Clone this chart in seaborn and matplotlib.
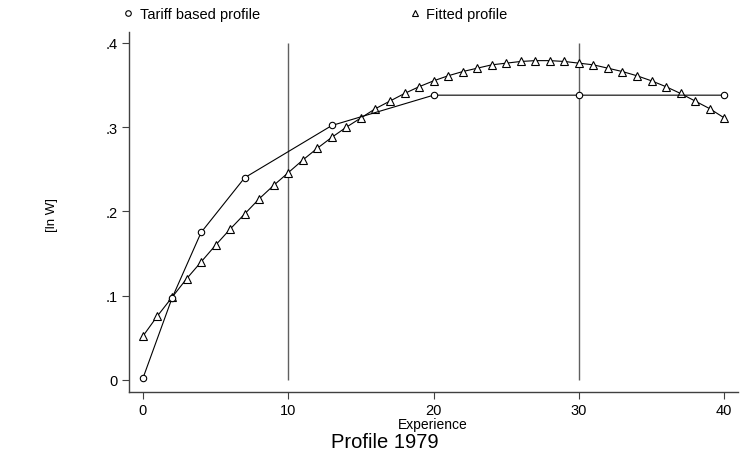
import matplotlib
matplotlib.use('Agg')
import matplotlib.pyplot as plt
from matplotlib.lines import Line2D
import pandas as pd
import seaborn as sns

# Tariff based profile
tariff_exp = [0, 2, 4, 7, 13, 20, 30, 40]
tariff_lnw = [0.002, 0.097, 0.175, 0.240, 0.302, 0.338, 0.338, 0.338]

# Fitted profile (one point per year of experience)
fitted_exp = list(range(0, 41))
fitted_lnw = [0.052, 0.076, 0.098, 0.120, 0.140, 0.160, 0.179, 0.197, 0.215, 0.231,
              0.246, 0.261, 0.275, 0.288, 0.300, 0.311, 0.322, 0.331, 0.340, 0.348,
              0.355, 0.361, 0.366, 0.370, 0.374, 0.376, 0.378, 0.379, 0.379, 0.378,
              0.376, 0.374, 0.370, 0.366, 0.361, 0.355, 0.348, 0.340, 0.331, 0.322,
              0.311]

ref_lines = [10, 30]
x_ticks = [0, 10, 20, 30, 40]
y_ticks = [0, 0.1, 0.2, 0.3, 0.4]
y_labels = ['0', '.1', '.2', '.3', '.4']

sns.set_style('ticks')
plt.rcParams['font.family'] = ['Liberation Sans', 'DejaVu Sans']
plt.rcParams['text.color'] = 'black'
plt.rcParams['xtick.labelcolor'] = 'black'
plt.rcParams['ytick.labelcolor'] = 'black'

tariff = pd.DataFrame({'exp': tariff_exp, 'lnw': tariff_lnw})
fitted = pd.DataFrame({'exp': fitted_exp, 'lnw': fitted_lnw})

fig = plt.figure(figsize=(7.43, 4.60), dpi=100)
ax = fig.add_axes([0.1736, 0.1457, 0.8197, 0.7826])

ax.vlines(ref_lines, 0, 0.4, color='#606060', lw=1.0, zorder=1)

sns.lineplot(data=tariff, x='exp', y='lnw', ax=ax, color='black', lw=0.8,
             marker='o', markersize=4.6, markerfacecolor='white',
             markeredgecolor='black', markeredgewidth=0.8, zorder=3)
sns.lineplot(data=fitted, x='exp', y='lnw', ax=ax, color='black', lw=0.8,
             marker='^', markersize=6.3, markerfacecolor='white',
             markeredgecolor='black', markeredgewidth=0.8, zorder=2)

ax.set_xlim(-0.96, 40.95)
ax.set_ylim(-0.0143, 0.413)
ax.set_xticks(x_ticks)
ax.set_yticks(y_ticks)
ax.set_yticklabels(y_labels)
ax.tick_params(axis='both', direction='out', length=5, width=0.8,
               color='#404040', labelsize=10.5, pad=3)
for side in ['top', 'right']:
    ax.spines[side].set_visible(False)
for side in ['left', 'bottom']:
    ax.spines[side].set_color('#404040')
    ax.spines[side].set_linewidth(1.0)

ax.set_xlabel('')
ax.set_ylabel('')
fig.text(0.583, 0.075, 'Experience', ha='center', va='center', fontsize=10)
fig.text(0.518, 0.037, 'Profile 1979', ha='center', va='center', fontsize=14.5)
fig.text(0.070, 0.532, '[ln W]', ha='center', va='center', rotation=90, fontsize=9.5)

handles = [
    Line2D([], [], ls='none', marker='o', markersize=4, markerfacecolor='white',
           markeredgecolor='black', markeredgewidth=0.8),
    Line2D([], [], ls='none', marker='^', markersize=5, markerfacecolor='white',
           markeredgecolor='black', markeredgewidth=0.8),
]
fig.legend(handles, ['Tariff based profile', 'Fitted profile'], ncol=2,
           loc='center left', bbox_to_anchor=(0.165, 0.968), frameon=False,
           fontsize=10.5, handlelength=0.8, handletextpad=0.4,
           columnspacing=10.2, borderaxespad=0, borderpad=0)

fig.savefig('out.png', dpi=100)
